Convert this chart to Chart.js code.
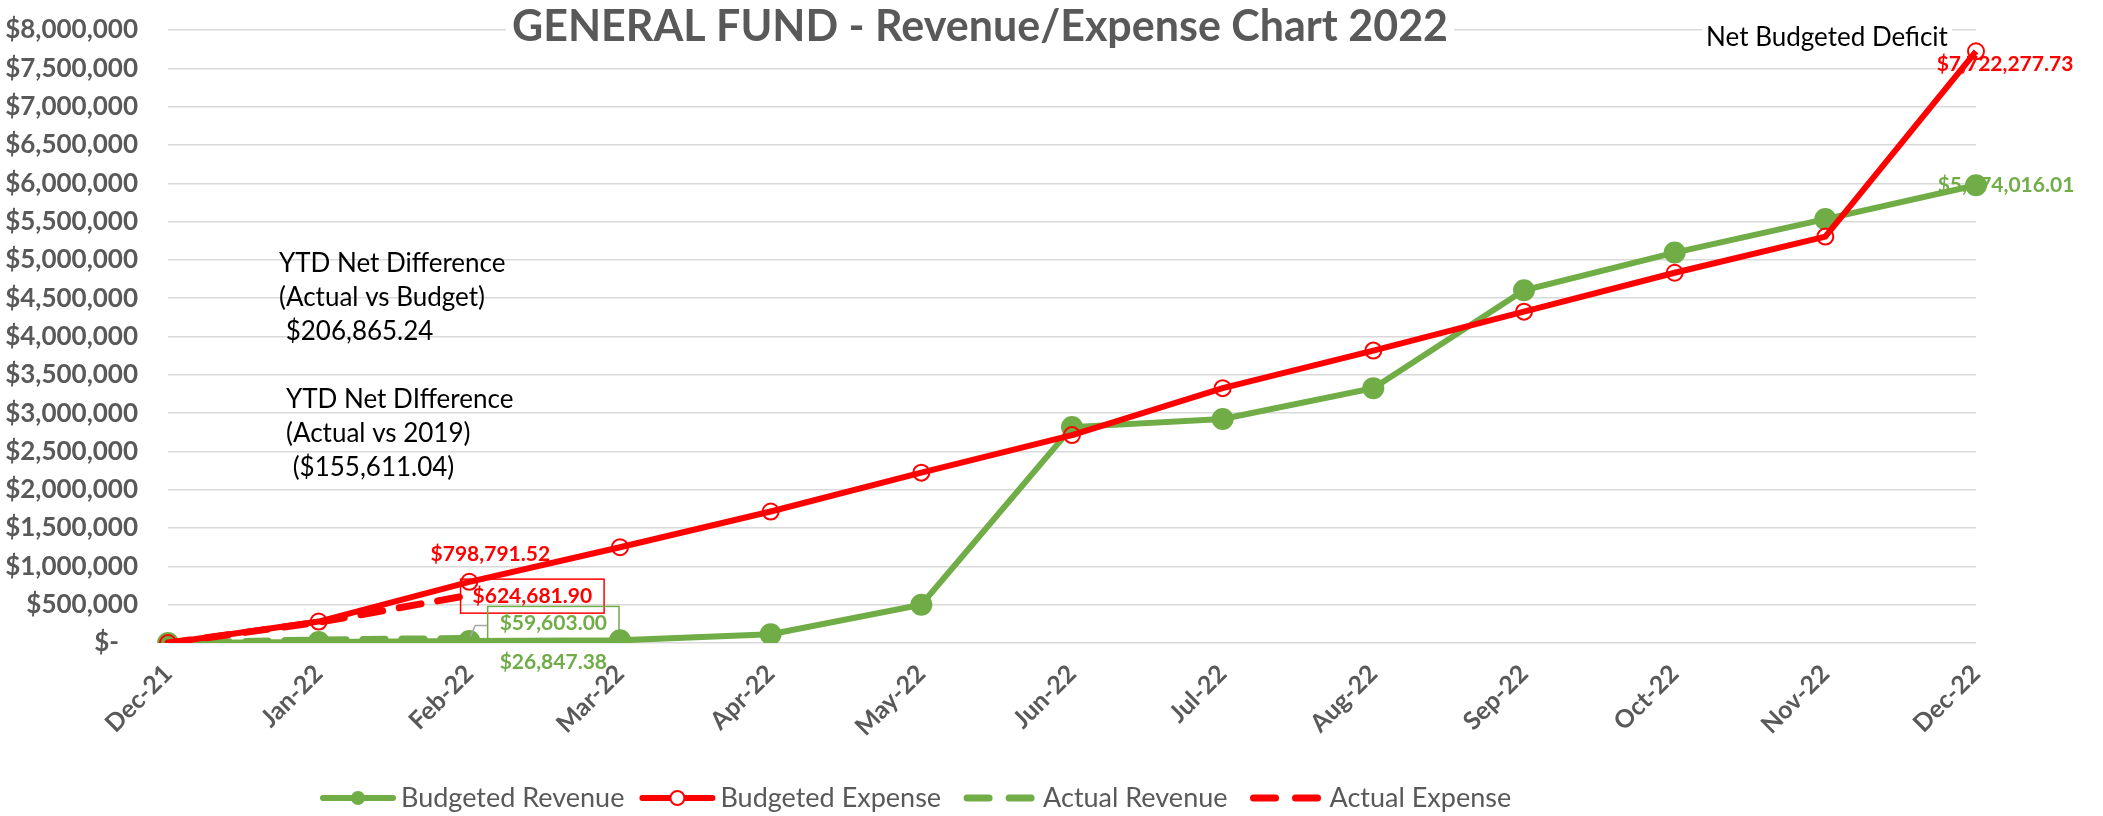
<!DOCTYPE html>
<html>
<head>
<meta charset="utf-8">
<title>General Fund 2022</title>
<script src="https://cdn.jsdelivr.net/npm/chart.js@4/dist/chart.umd.min.js"></script>
<style>
  html, body { margin: 0; padding: 0; background: #fff; }
  canvas { display: block; }
</style>
</head>
<body>
<canvas id="fundChart" width="2103" height="816"></canvas>
<script>
const months = ['Dec-21', 'Jan-22', 'Feb-22', 'Mar-22', 'Apr-22', 'May-22', 'Jun-22',
                'Jul-22', 'Aug-22', 'Sep-22', 'Oct-22', 'Nov-22', 'Dec-22'];

const budgetedRevenue = [0, 13000, 26847.38, 35000, 115000, 500000, 2818000,
                         2924000, 3326000, 4604000, 5095000, 5532000, 5974016.01];
const budgetedExpense = [0, 280000, 798791.52, 1250000, 1716000, 2223000, 2713000,
                         3326000, 3816000, 4324000, 4832000, 5304000, 7722277.73];
const actualRevenue = [0, 40000, 59603.00];
const actualExpense = [0, 270000, 624681.90];

const yMin = 0;
const yMax = 8000000;
const yStep = 500000;

const GREEN = '#70AD47';
const RED = '#FF0000';
const GRAY = '#595959';
const GRID = '#D9D9D9';
const FONT = 'Lato, "Noto Sans", sans-serif';

const money = v => '$' + v.toLocaleString('en-US', { minimumFractionDigits: 2, maximumFractionDigits: 2 });
const axisMoney = v => v === 0 ? '$-   ' : '$' + v.toLocaleString('en-US');

// value labels hung off individual points (dataset, index, offset of text centre)
const valueLabels = [
  { ds: 1, i: 2,  dx: 21, dy: -28, color: RED },
  { ds: 3, i: 2,  dx: 63, dy: 1,   color: RED,   box: true },
  { ds: 2, i: 2,  dx: 84, dy: -15, color: GREEN, box: true, leader: true },
  { ds: 0, i: 2,  dx: 84, dy: 21,  color: GREEN },
  { ds: 1, i: 12, dx: 29, dy: 13,  color: RED },
  { ds: 0, i: 12, dx: 30, dy: 0,   color: GREEN }
];

// free text blocks, positioned from the plot area's top-left corner
const notes = [
  { x: 111, y: 234, lines: ['YTD Net Difference', '(Actual vs Budget)', ' $206,865.24'] },
  { x: 118, y: 370, lines: ['YTD Net DIfference', '(Actual vs 2019)', ' ($155,611.04)'] }
];

const legendItems = [
  { text: 'Budgeted Revenue', color: GREEN, dashed: false, marker: 'filled' },
  { text: 'Budgeted Expense', color: RED,   dashed: false, marker: 'open' },
  { text: 'Actual Revenue',   color: GREEN, dashed: true },
  { text: 'Actual Expense',   color: RED,   dashed: true }
];

const excelText = {
  id: 'excelText',
  afterDatasetsDraw(chart) {
    const ctx = chart.ctx;
    const area = chart.chartArea;
    ctx.save();

    // data labels
    ctx.font = 'bold 21px ' + FONT;
    ctx.textAlign = 'center';
    ctx.textBaseline = 'middle';
    valueLabels.forEach(l => {
      const pt = chart.getDatasetMeta(l.ds).data[l.i];
      const value = chart.data.datasets[l.ds].data[l.i];
      const text = money(value);
      const cx = pt.x + l.dx;
      const cy = pt.y + l.dy;
      const w = ctx.measureText(text).width;
      if (l.leader) {
        ctx.strokeStyle = '#A6A6A6';
        ctx.lineWidth = 1.5;
        ctx.beginPath();
        ctx.moveTo(pt.x + 1, pt.y - 2);
        ctx.lineTo(pt.x + 6, pt.y - 13);
        ctx.lineTo(cx - w / 2 - 12, pt.y - 13);
        ctx.stroke();
      }
      if (l.box) {
        ctx.strokeStyle = l.color;
        ctx.lineWidth = 1.5;
        ctx.strokeRect(cx - w / 2 - 12, cy - 17, w + 24, 34);
      }
      ctx.fillStyle = l.color;
      ctx.fillText(text, cx, cy);
    });

    // note blocks
    ctx.font = '26px ' + FONT;
    ctx.fillStyle = '#000';
    ctx.textAlign = 'left';
    notes.forEach(n => {
      n.lines.forEach((line, k) => ctx.fillText(line, area.left + n.x, area.top + n.y + k * 34));
    });
    ctx.restore();
  },
  afterDraw(chart) {
    const ctx = chart.ctx;
    const area = chart.chartArea;
    ctx.save();
    ctx.textBaseline = 'middle';
    ctx.textAlign = 'center';

    // title over the top gridline
    ctx.font = 'bold 43px ' + FONT;
    const title = 'GENERAL FUND - Revenue/Expense Chart 2022';
    const tw = ctx.measureText(title).width;
    const tx = 980, ty = 27;
    ctx.fillStyle = '#fff';
    ctx.fillRect(tx - tw / 2 - 6, ty - 24, tw + 12, 48);
    ctx.fillStyle = GRAY;
    ctx.fillText(title, tx, ty);

    ctx.font = '26px ' + FONT;
    const deficit = 'Net Budgeted Deficit';
    const dw = ctx.measureText(deficit).width;
    const dx = area.right - 149, dy = 38;
    ctx.fillStyle = '#fff';
    ctx.fillRect(dx - dw / 2 - 4, dy - 14, dw + 8, 28);
    ctx.fillStyle = '#000';
    ctx.fillText(deficit, dx, dy);

    // legend, Excel style: line with marker in the middle
    ctx.font = '27px ' + FONT;
    ctx.textAlign = 'left';
    let x = 323;
    const y = 798;
    legendItems.forEach(item => {
      ctx.strokeStyle = item.color;
      ctx.lineCap = 'round';
      let symbolWidth = 70;
      if (item.dashed) {
        symbolWidth = 76;
        ctx.lineWidth = 7;
        [[x + 8, x + 30], [x + 50, x + 72]].forEach(([a, b]) => {
          ctx.beginPath(); ctx.moveTo(a, y); ctx.lineTo(b, y); ctx.stroke();
        });
      } else {
        ctx.lineWidth = 6;
        ctx.beginPath(); ctx.moveTo(x, y); ctx.lineTo(x + 70, y); ctx.stroke();
        ctx.beginPath();
        ctx.arc(x + 35, y, 7, 0, Math.PI * 2);
        if (item.marker === 'filled') {
          ctx.fillStyle = item.color; ctx.fill();
        } else {
          ctx.fillStyle = '#fff'; ctx.fill();
          ctx.lineWidth = 2; ctx.stroke();
        }
      }
      ctx.fillStyle = GRAY;
      ctx.fillText(item.text, x + symbolWidth + 8, y);
      x += symbolWidth + 8 + ctx.measureText(item.text).width + 18;
    });
    ctx.restore();
  }
};

new Chart(document.getElementById('fundChart'), {
  type: 'line',
  data: {
    labels: months,
    datasets: [
      {
        label: 'Budgeted Revenue',
        data: budgetedRevenue,
        borderColor: GREEN,
        backgroundColor: GREEN,
        borderWidth: 6,
        pointRadius: 8,
        pointBackgroundColor: GREEN,
        pointBorderColor: GREEN,
        order: 4
      },
      {
        label: 'Budgeted Expense',
        data: budgetedExpense,
        borderColor: RED,
        backgroundColor: RED,
        borderWidth: 6,
        pointRadius: 8,
        pointBackgroundColor: 'rgba(255,255,255,0)',
        pointBorderColor: RED,
        pointBorderWidth: 2,
        order: 1
      },
      {
        label: 'Actual Revenue',
        data: actualRevenue,
        borderColor: GREEN,
        borderWidth: 7,
        borderDash: [22, 17],
        borderCapStyle: 'round',
        pointRadius: 0,
        order: 3
      },
      {
        label: 'Actual Expense',
        data: actualExpense,
        borderColor: RED,
        borderWidth: 7,
        borderDash: [22, 17],
        borderCapStyle: 'round',
        pointRadius: 0,
        order: 2
      }
    ]
  },
  options: {
    responsive: false,
    animation: false,
    devicePixelRatio: 1,
    layout: { padding: { top: 30, right: 127, bottom: 0, left: 0 } },
    plugins: {
      legend: { display: false },
      title: { display: false },
      tooltip: { enabled: false }
    },
    scales: {
      x: {
        offset: false,
        grid: { display: false },
        border: { display: false },
        ticks: {
          autoSkip: false,
          maxRotation: 45,
          minRotation: 45,
          padding: 8,
          color: GRAY,
          font: { family: FONT, size: 25, weight: 'bold' }
        },
        afterFit(scale) {
          scale.height = 173;
          scale.paddingLeft = 0;
          scale.paddingRight = 0;
        }
      },
      y: {
        min: yMin,
        max: yMax,
        grid: { color: GRID, lineWidth: 1.5, drawTicks: false },
        border: { display: false },
        ticks: {
          stepSize: yStep,
          padding: 30,
          color: GRAY,
          font: { family: FONT, size: 26, weight: 'bold' },
          callback: v => axisMoney(v)
        },
        afterFit(scale) {
          scale.width = 168;
          scale.paddingTop = 0;
          scale.paddingBottom = 0;
        }
      }
    }
  },
  plugins: [excelText]
});
</script>
</body>
</html>
